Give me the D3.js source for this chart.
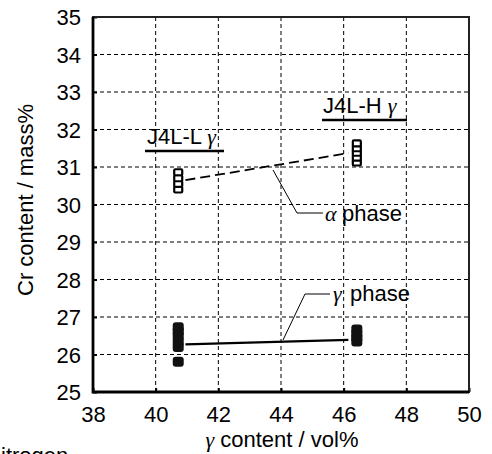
<!DOCTYPE html>
<html>
<head>
<meta charset="utf-8">
<script src="https://cdn.jsdelivr.net/npm/d3@7"></script>
<style>
  body { margin: 0; background: #fff; }
  svg { display: block; font-family: "Liberation Sans", Arial, sans-serif; }
  .greek { font-family: "Liberation Serif", "DejaVu Serif", serif; font-style: italic; }
</style>
</head>
<body>
<div id="chart"></div>
<script>
// data
const xTicks = [38, 40, 42, 44, 46, 48, 50];
const yTicks = [25, 26, 27, 28, 29, 30, 31, 32, 33, 34, 35];

const alphaL = { x: 40.72, ys: [30.4, 30.55, 30.7, 30.86] };
const alphaH = { x: 46.42, ys: [31.12, 31.25, 31.38, 31.5, 31.63] };
const gammaL = { x: 40.72, ys: [25.81, 26.2, 26.35, 26.5, 26.62, 26.73] };
const gammaH = { x: 46.42, ys: [26.35, 26.45, 26.55, 26.67] };

const alphaLine = [[40.95, 30.65], [46.15, 31.37]];
const gammaLine = [[40.95, 26.27], [46.15, 26.39]];

const width = 492, height = 454;
const margin = { left: 93, top: 17, right: 23, bottom: 62 };
const fs = "22px";

const svg = d3.select("#chart").append("svg")
  .attr("width", width)
  .attr("height", height);

const x = d3.scaleLinear().domain([38, 50]).range([margin.left, width - margin.right]);
const y = d3.scaleLinear().domain([25, 35]).range([height - margin.bottom, margin.top]);

// -----------------------------
// Grid
// -----------------------------
const grid = svg.append("g").attr("stroke", "#000").attr("stroke-width", 1).attr("stroke-dasharray", "4,3");
grid.selectAll("line.v")
  .data(xTicks.slice(1, -1))
  .join("line")
  .attr("class", "v")
  .attr("x1", d => x(d)).attr("x2", d => x(d))
  .attr("y1", y(35)).attr("y2", y(25));
grid.selectAll("line.h")
  .data(yTicks.slice(1, -1))
  .join("line")
  .attr("class", "h")
  .attr("x1", x(38)).attr("x2", x(50))
  .attr("y1", d => y(d)).attr("y2", d => y(d));

// -----------------------------
// Axes
// -----------------------------
const xAxis = svg.append("g")
  .attr("transform", `translate(0,${y(25)})`)
  .call(d3.axisBottom(x).tickValues(xTicks).tickSize(-4).tickPadding(14).tickFormat(d3.format("d")));
const yAxis = svg.append("g")
  .attr("transform", `translate(${x(38)},0)`)
  .call(d3.axisLeft(y).tickValues(yTicks).tickSize(-4).tickPadding(12).tickFormat(d3.format("d")));

[xAxis, yAxis].forEach(a => {
  a.select(".domain").remove();
  a.selectAll(".tick line").attr("stroke", "#000").attr("stroke-width", 2);
  a.selectAll(".tick text")
    .style("font-size", fs)
    .style("font-family", "'Liberation Sans', Arial, sans-serif")
    .attr("fill", "#000");
});
yAxis.selectAll(".tick text").attr("dy", "0.36em");

// frame
svg.append("rect")
  .attr("x", x(38)).attr("y", y(35))
  .attr("width", x(50) - x(38)).attr("height", y(25) - y(35))
  .attr("fill", "none").attr("stroke", "#222").attr("stroke-width", 2);
svg.append("path")
  .attr("d", `M${x(38)},${y(35)}V${y(25)}H${x(50)}`)
  .attr("fill", "none").attr("stroke", "#000").attr("stroke-width", 2.8);

// axis titles
svg.append("text")
  .attr("transform", `translate(33,200) rotate(-90)`)
  .attr("text-anchor", "middle")
  .style("font-size", fs)
  .text("Cr content / mass%");

const xt = svg.append("text")
  .attr("x", 282)
  .attr("y", 447)
  .attr("text-anchor", "middle")
  .style("font-size", fs);
xt.append("tspan").attr("class", "greek").text("γ");
xt.append("tspan").text(" content / vol%");

// caption cut off by the bottom edge, as in the source
svg.append("text")
  .attr("x", 1).attr("y", 463)
  .style("font-size", fs)
  .text("itrogen");

// -----------------------------
// Lines
// -----------------------------
const line = d3.line().x(d => x(d[0])).y(d => y(d[1]));
svg.append("path")
  .datum(alphaLine)
  .attr("d", line)
  .attr("fill", "none").attr("stroke", "#000").attr("stroke-width", 1.8)
  .attr("stroke-dasharray", "10,5");
svg.append("path")
  .datum(gammaLine)
  .attr("d", line)
  .attr("fill", "none").attr("stroke", "#000").attr("stroke-width", 2.2);

// -----------------------------
// Markers
// -----------------------------
const mw = 10, mh = 8;
[alphaL, alphaH].forEach(s => {
  svg.append("g").selectAll("rect")
    .data(s.ys)
    .join("rect")
    .attr("x", x(s.x) - mw / 2 + 1)
    .attr("y", d => y(d) - mh / 2 + 1)
    .attr("width", mw - 2).attr("height", mh - 2)
    .attr("rx", 1)
    .attr("fill", "#fff").attr("stroke", "#000").attr("stroke-width", 2.2);
});
[gammaL, gammaH].forEach(s => {
  svg.append("g").selectAll("rect")
    .data(s.ys)
    .join("rect")
    .attr("x", x(s.x) - 5.5)
    .attr("y", d => y(d) - 5)
    .attr("width", 11).attr("height", 10)
    .attr("rx", 3)
    .attr("fill", "#111");
});

// -----------------------------
// Labels and leaders
// -----------------------------
function groupLabel(x0, baseline, name, u0, u1) {
  const t = svg.append("text")
    .attr("x", x0).attr("y", baseline)
    .style("font-size", fs);
  t.append("tspan").text(name + " ");
  t.append("tspan").attr("class", "greek").text("γ");
  svg.append("line")
    .attr("x1", u0).attr("x2", u1)
    .attr("y1", baseline + 7).attr("y2", baseline + 7)
    .attr("stroke", "#000").attr("stroke-width", 2.5);
}
groupLabel(147, 144, "J4L-L", 145, 224);
groupLabel(323, 113, "J4L-H", 322, 407);

svg.append("path")
  .attr("d", `M273,170L297,213H323`)
  .attr("fill", "none").attr("stroke", "#000").attr("stroke-width", 1);
const at = svg.append("text").attr("x", 325).attr("y", 221).style("font-size", fs);
at.append("tspan").attr("class", "greek").text("α");
at.append("tspan").attr("x", 342).text("phase");

svg.append("path")
  .attr("d", `M283,340L305,294H330`)
  .attr("fill", "none").attr("stroke", "#000").attr("stroke-width", 1);
const gt = svg.append("text").attr("x", 333).attr("y", 301).style("font-size", fs);
gt.append("tspan").attr("class", "greek").text("γ");
gt.append("tspan").attr("x", 350).text("phase");
</script>
</body>
</html>
